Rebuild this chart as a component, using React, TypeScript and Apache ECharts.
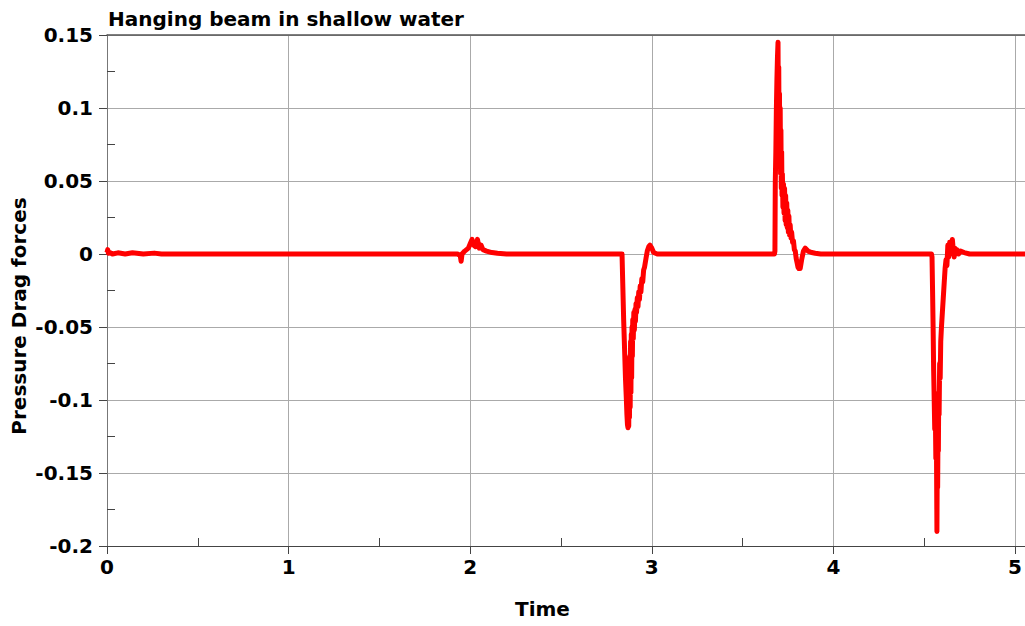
import React, { useEffect, useRef } from "react";
import * as echarts from "echarts";

const titleText = "Hanging beam in shallow water";
const xName = "Time";
const yName = "Pressure Drag forces";

const times: number[] = [
  0, 0.004, 0.008, 0.015, 0.03, 0.06, 0.1, 0.14, 0.2, 0.26, 0.3, 0.35,
  1.93, 1.945, 1.95, 1.955, 1.97, 1.99, 2.0, 2.01, 2.02, 2.03, 2.04, 2.05, 2.06, 2.07, 2.09, 2.12, 2.15, 2.2,
  2.836, 2.84, 2.845, 2.85, 2.855, 2.86, 2.863, 2.866, 2.869, 2.871, 2.873, 2.875, 2.877, 2.879, 2.881, 2.883, 2.885, 2.887, 2.889, 2.891, 2.893, 2.895, 2.898, 2.901, 2.904, 2.907, 2.91, 2.913, 2.916, 2.92, 2.924, 2.928, 2.932, 2.936, 2.94, 2.945, 2.95, 2.955, 2.96, 2.968, 2.975, 2.983, 2.99, 3.0, 3.01, 3.03,
  3.675, 3.678, 3.68, 3.683, 3.686, 3.689, 3.692, 3.695, 3.697, 3.699, 3.701, 3.703, 3.705, 3.707, 3.709, 3.711, 3.713, 3.715, 3.717, 3.719, 3.722, 3.725, 3.728, 3.731, 3.734, 3.737, 3.74, 3.743, 3.746, 3.749, 3.752, 3.755, 3.758, 3.762, 3.766, 3.77, 3.775, 3.78, 3.785, 3.79, 3.795, 3.8, 3.805, 3.81, 3.817, 3.825, 3.835, 3.845, 3.86, 3.88, 3.9, 3.93,
  4.54, 4.543, 4.546, 4.549, 4.552, 4.555, 4.558, 4.561, 4.564, 4.567, 4.57, 4.572, 4.574, 4.576, 4.578, 4.58, 4.582, 4.585, 4.588, 4.591, 4.595, 4.6, 4.605, 4.61, 4.615, 4.62, 4.625, 4.63, 4.635, 4.64, 4.645, 4.65, 4.655, 4.66, 4.665, 4.67, 4.675, 4.68, 4.69, 4.7, 4.72, 4.75, 5.06,
];

const forces: number[] = [
  0.001, 0.003, 0.0005, 0.001, 0.0, 0.0008, 0.0, 0.0008, 0.0, 0.0006, 0.0, 0.0,
  0, -0.001, -0.005, 0.0, 0.002, 0.004, 0.007, 0.01, 0.006, 0.005, 0.01, 0.004, 0.006, 0.003, 0.002, 0.001, 0.0005, 0,
  0, -0.02, -0.045, -0.065, -0.085, -0.1, -0.11, -0.117, -0.119, -0.1, -0.118, -0.085, -0.112, -0.07, -0.105, -0.06, -0.095, -0.055, -0.085, -0.05, -0.07, -0.045, -0.058, -0.04, -0.052, -0.038, -0.046, -0.034, -0.04, -0.03, -0.036, -0.026, -0.031, -0.022, -0.026, -0.017, -0.019, -0.011, -0.009, -0.003, 0.002, 0.005, 0.006, 0.004, 0.001, 0,
  0, 0.002, 0.05, 0.07, 0.1, 0.12, 0.135, 0.145, 0.09, 0.128, 0.075, 0.11, 0.065, 0.1, 0.055, 0.085, 0.045, 0.07, 0.04, 0.055, 0.032, 0.048, 0.028, 0.045, 0.023, 0.04, 0.02, 0.035, 0.018, 0.03, 0.015, 0.026, 0.013, 0.02, 0.011, 0.015, 0.008, 0.009, 0.003, 0.002, -0.003, -0.006, -0.009, -0.01, -0.01, -0.004, 0.002, 0.004, 0.002, 0.001, 0.0005, 0,
  0, -0.002, -0.025, -0.05, -0.08, -0.1, -0.12, -0.105, -0.14, -0.12, -0.19, -0.14, -0.16, -0.12, -0.135, -0.095, -0.11, -0.075, -0.085, -0.06, -0.05, -0.04, -0.03, -0.02, -0.01, -0.004, -0.008, 0.006, -0.002, 0.008, 0.0, 0.006, 0.01, 0.003, -0.002, 0.004, 0.0, 0.003, 0.0, 0.002, 0.001, 0, 0,
];

const xMin = 0;
const xMax = 5.055;
const xInterval = 1;
const yMin = -0.2;
const yMax = 0.15;
const yInterval = 0.05;

const FONT = "DejaVu Sans";

export default function App() {
  const ref = useRef<HTMLDivElement>(null);
  useEffect(() => {
    if (!ref.current) return;
    const chart = echarts.init(ref.current, undefined, { renderer: "svg" });
    const data = times.map((t, i) => [t, forces[i]]);
    const labelStyle = { color: "#000", fontFamily: FONT, fontWeight: "bold" as const, fontSize: 20 };
    chart.setOption({
      animation: false,
      backgroundColor: "#fff",
      title: {
        text: titleText,
        left: 103,
        top: 4,
        textStyle: { color: "#000", fontFamily: FONT, fontWeight: "bold", fontSize: 20 },
      },
      grid: { left: 107, top: 35, right: 0, bottom: 80, containLabel: false },
      xAxis: [
        {
          type: "value",
          min: xMin,
          max: xMax,
          interval: xInterval,
          axisLine: { show: true, onZero: false, lineStyle: { color: "#444", width: 1 } },
          axisTick: { show: true, inside: false, length: 8, lineStyle: { color: "#444" } },
          axisLabel: { ...labelStyle, margin: 11, showMaxLabel: false, formatter: (v: number) => String(v) },
          splitLine: { show: true, lineStyle: { color: "#aaa", width: 1 } },
        },
        {
          type: "value",
          min: xMin,
          max: xMax,
          interval: xInterval,
          position: "bottom",
          axisLine: { show: false, onZero: false },
          axisTick: { show: false, inside: true },
          minorTick: { show: true, splitNumber: 2, length: 8, lineStyle: { color: "#444" } },
          axisLabel: { show: false },
          splitLine: { show: false },
        },
        {
          type: "value",
          min: xMin,
          max: xMax,
          interval: xInterval,
          position: "top",
          axisLine: { show: true, onZero: false, lineStyle: { color: "#555", width: 1.5 } },
          axisTick: { show: false },
          axisLabel: { show: false },
          splitLine: { show: false },
        },
      ],
      yAxis: [
        {
          type: "value",
          min: yMin,
          max: yMax,
          interval: yInterval,
          axisLine: { show: true, onZero: false, lineStyle: { color: "#777", width: 1 } },
          axisTick: { show: true, inside: false, length: 8, lineStyle: { color: "#444" } },
          axisLabel: {
            ...labelStyle,
            margin: 14,
            formatter: (v: number) => String(parseFloat(v.toFixed(3))),
          },
          splitLine: { show: true, lineStyle: { color: "#aaa", width: 1 } },
        },
        {
          type: "value",
          min: yMin,
          max: yMax,
          interval: yInterval,
          position: "left",
          axisLine: { show: false, onZero: false },
          axisTick: { show: false, inside: true },
          minorTick: { show: true, splitNumber: 2, length: 8, lineStyle: { color: "#444" } },
          axisLabel: { show: false },
          splitLine: { show: false },
        },
      ],
      graphic: [
        {
          type: "text",
          left: 515,
          top: 599,
          style: { text: xName, fill: "#000", font: `bold 20px "${FONT}"` },
        },
        {
          type: "text",
          x: 9,
          y: 316,
          rotation: Math.PI / 2,
          style: {
            text: yName,
            fill: "#000",
            font: `bold 20px "${FONT}"`,
            align: "center",
            verticalAlign: "top",
          },
        },
      ],
      series: [
        {
          type: "line",
          xAxisIndex: 0,
          yAxisIndex: 0,
          data,
          showSymbol: false,
          symbol: "none",
          lineStyle: { color: "#ff0000", width: 5, join: "round" },
          z: 5,
        },
      ],
    });
    return () => chart.dispose();
  }, []);
  return <div ref={ref} style={{ width: 1025, height: 626, position: "absolute", left: 0, top: 0 }} />;
}
